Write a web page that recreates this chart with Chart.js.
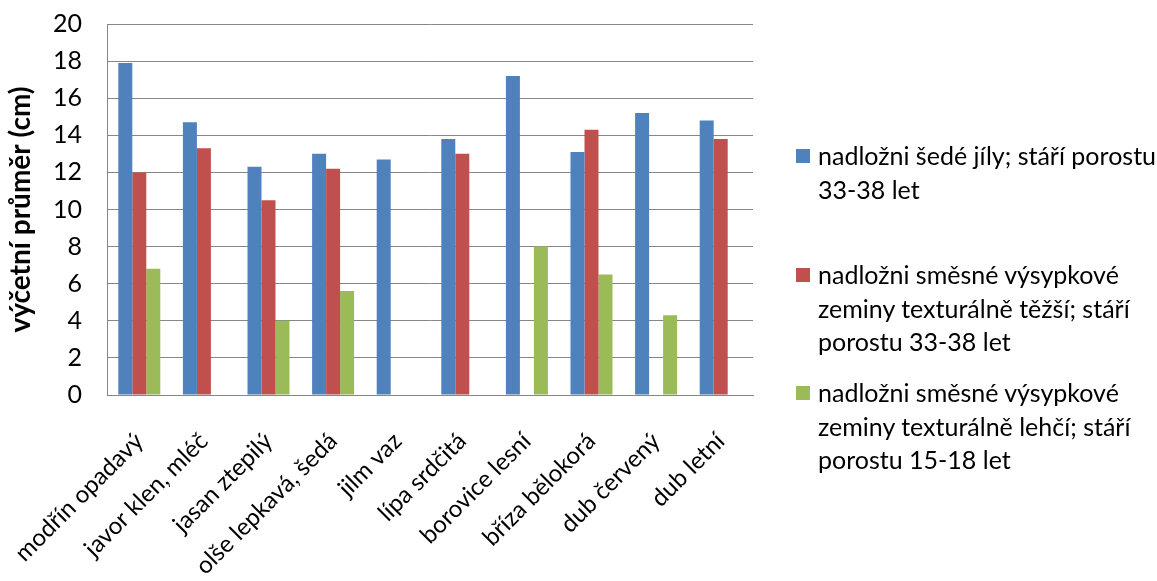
<!DOCTYPE html>
<html lang="cs">
<head>
<meta charset="utf-8">
<title>Výčetní průměr dřevin</title>
<script src="https://cdn.jsdelivr.net/npm/chart.js@4/dist/chart.umd.min.js"></script>
<style>
  html, body { margin: 0; padding: 0; background: #fff; }
  #wrap { position: relative; width: 1157px; height: 581px; overflow: hidden; }
  #chart { position: absolute; left: 0; top: 0; }
  .lg-item { position: absolute; left: 796px; font-family: Lato, "Open Sans", sans-serif; font-size: 25px; line-height: 33.5px; color: #000; }
  .lg-box { position: absolute; left: 0; top: 10px; width: 14px; height: 14px; }
  .lg-text { margin-left: 22px; white-space: nowrap; }
</style>
</head>
<body>
<div id="wrap">
  <canvas id="chart" width="1157" height="581"></canvas>
</div>
<script>
// Tree species on the category axis
const categories = [
  "modřín opadavý", "javor klen, mléč", "jasan ztepilý", "olše lepkavá, šedá", "jilm vaz",
  "lípa srdčitá", "borovice lesní", "bříza bělokorá", "dub červený", "dub letní"
];

// Series names, already split into the lines shown in the legend
const seriesLines = [
  ["nadložni šedé jíly; stáří porostu", "33-38 let"],
  ["nadložni směsné výsypkové", "zeminy texturálně těžší; stáří", "porostu 33-38 let"],
  ["nadložni směsné výsypkové", "zeminy texturálně lehčí; stáří", "porostu 15-18 let"]
];

// Mean breast-height diameter (cm); null = species not present
const greyClays   = [17.9, 14.7, 12.3, 13.0, 12.7, 13.8, 17.2, 13.1, 15.2, 14.8];
const heavySpoil  = [12.0, 13.3, 10.5, 12.2, null, 13.0, null, 14.3, null, 13.8];
const lightSpoil  = [6.8, null, 4.0, 5.6, null, null, 8.0, 6.5, 4.3, null];

const yTicks = [0, 2, 4, 6, 8, 10, 12, 14, 16, 18, 20];
const yTitle = "výčetní průměr (cm)";

const seriesColors = ["#4F81BD", "#C0504D", "#9BBB59"];
const seriesValues = [greyClays, heavySpoil, lightSpoil];

const FONT = "Lato, 'Open Sans', sans-serif";
const GRID = "#868686";

const datasets = seriesValues.map((vals, i) => ({
  label: seriesLines[i].join(" "),
  data: vals,
  backgroundColor: seriesColors[i],
  borderWidth: 0,
  categoryPercentage: 0.65,
  barPercentage: 1.0
}));

const chart = new Chart(document.getElementById("chart"), {
  type: "bar",
  data: { labels: categories, datasets },
  options: {
    responsive: false,
    animation: false,
    devicePixelRatio: 1,
    layout: { padding: { top: 24, right: 404, bottom: 0, left: 0 } },
    plugins: { legend: { display: false }, tooltip: { enabled: false } },
    scales: {
      x: {
        offset: true,
        grid: { display: false },
        border: { display: true, color: GRID, width: 1 },
        ticks: {
          autoSkip: false,
          minRotation: 45,
          maxRotation: 45,
          padding: 24,
          color: "#000",
          font: { family: FONT, size: 24 }
        },
        // fixed axis band; rotated labels may run past the plot's left edge
        afterFit: s => { s.height = 186; s.paddingLeft = 0; s.paddingRight = 0; }
      },
      y: {
        min: 0,
        max: 20,
        afterBuildTicks: s => { s.ticks = yTicks.map(v => ({ value: v })); },
        grid: { color: GRID, lineWidth: 1, drawTicks: false },
        border: { display: true, color: GRID, width: 1 },
        ticks: {
          padding: 25,
          color: "#000",
          font: { family: FONT, size: 25 }
        },
        title: {
          display: true,
          text: yTitle,
          color: "#000",
          padding: { top: 4, bottom: 0 },
          font: { family: FONT, size: 28, weight: "bold" }
        },
        afterFit: s => { s.width = 107; s.paddingTop = 0; s.paddingBottom = 0; }
      }
    }
  }
});

// Legend built from the datasets, laid out to the right of the plot
const legendTops = [139, 258, 376];
const wrap = document.getElementById("wrap");
chart.data.datasets.forEach((ds, i) => {
  const item = document.createElement("div");
  item.className = "lg-item";
  item.style.top = legendTops[i] + "px";
  const box = document.createElement("div");
  box.className = "lg-box";
  box.style.background = ds.backgroundColor;
  item.appendChild(box);
  const text = document.createElement("div");
  text.className = "lg-text";
  seriesLines[i].forEach((line, j) => {
    if (j) text.appendChild(document.createElement("br"));
    text.appendChild(document.createTextNode(line));
  });
  item.appendChild(text);
  wrap.appendChild(item);
});
</script>
</body>
</html>
